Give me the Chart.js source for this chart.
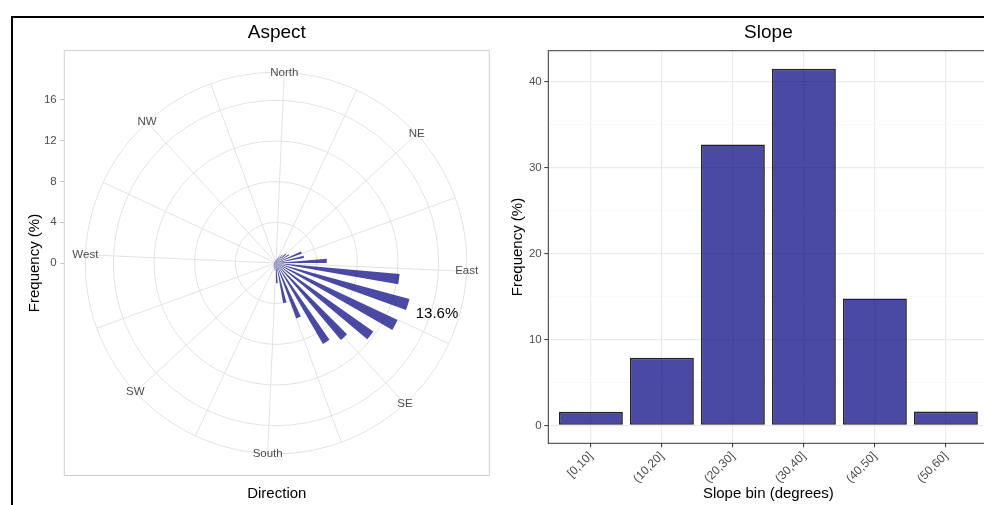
<!DOCTYPE html>
<html>
<head>
<meta charset="utf-8">
<script src="https://cdn.jsdelivr.net/npm/chart.js@4.4.1/dist/chart.umd.min.js"></script>
<style>
  html, body { margin: 0; padding: 0; background: #fff; overflow: hidden; width: 984px; height: 505px; }
  #frame { position: absolute; left: 11px; top: 16px; width: 1000px; height: 600px; border-top: 2px solid #000; border-left: 2px solid #000; }
  #leftWrap { position: absolute; left: 14px; top: 18px; width: 486px; height: 487px; }
  #rightWrap { position: absolute; left: 500px; top: 18px; width: 500px; height: 487px; }
</style>
</head>
<body>
<div id="frame"></div>
<div id="leftWrap"><canvas id="aspect"></canvas></div>
<div id="rightWrap"><canvas id="slope"></canvas></div>
<script>
// ---------- data ----------
// Aspect: 36 bins of 10 degrees (clockwise from North), frequency in %
const ASPECT_BINS = Array.from({length: 36}, (_, i) => `[${i * 10},${i * 10 + 10})`);
const ASPECT_FREQ = [
  0.4, 0.5, 0.7, 1.0, 1.3, 1.5, 2.7, 2.8, 5.0, 12.2,
  13.6, 13.2, 11.7, 9.9, 9.2, 5.8, 4.0, 2.0, 0.8, 0.6,
  0.5, 0.4, 0.3, 0.2, 0.2, 0.2, 0.2, 0.2, 0.2, 0.2,
  0.2, 0.2, 0.2, 0.2, 0.3, 0.3
];
const ASPECT_R_TICKS = [0, 4, 8, 12, 16];
const COMPASS_LABELS = ['North', '', 'NE', '', 'East', '', 'SE', '', 'South', '', 'SW', '', 'West', '', 'NW', ''];

// Slope
const SLOPE_BINS = ['[0,10]', '(10,20]', '(20,30]', '(30,40]', '(40,50]', '(50,60]'];
const SLOPE_FREQ = [1.59, 7.89, 32.7, 41.5, 14.77, 1.62];
const SLOPE_Y_TICKS = [0, 10, 20, 30, 40];

// ---------- styling constants ----------
const R_MAX = 20.85;      // radial extent of the panel
const R_OUTER = 18.77;    // outer ring of the polar panel
const START_ANGLE = 2.5;  // rotation of the polar panel (deg)
const BAR_FRAC = 0.48;    // fraction of each 10 deg sector filled by a bar
const LABEL_GAP = 3;      // distance of max label beyond bar (in %)
const BAR_FILL = 'rgba(0,0,128,0.71)';
const GRAY_TXT = '#4d4d4d';

Chart.defaults.font.family = "'Liberation Sans', Arial, Helvetica, sans-serif";
Chart.defaults.color = GRAY_TXT;

function panelBorder(color, width) {
  return {
    id: 'panelBorder',
    afterDraw(chart) {
      const {ctx, chartArea: a} = chart;
      ctx.save();
      ctx.strokeStyle = color;
      ctx.lineWidth = width;
      ctx.strokeRect(a.left, a.top, a.right - a.left, a.bottom - a.top);
      ctx.restore();
    }
  };
}

const rosePlugin = {
  id: 'rose',
  beforeDatasetsDraw(chart) {
    const s = chart.scales.r;
    const ctx = chart.ctx;
    // narrow each sector to a bar centred in its bin
    const meta = chart.getDatasetMeta(0);
    const n = meta.data.length;
    const step = 2 * Math.PI / n;
    const a0 = s.getIndexAngle(0) - Math.PI / 2;
    meta.data.forEach((arc, i) => {
      const mid = a0 + (i + 0.5) * step;
      arc.startAngle = mid - step * BAR_FRAC / 2;
      arc.endAngle = mid + step * BAR_FRAC / 2;
    });
    // spokes
    const R = s.getDistanceFromCenterForValue(R_OUTER);
    ctx.save();
    ctx.strokeStyle = '#e2e2e2';
    ctx.lineWidth = 1;
    const rot = s.options.startAngle;
    COMPASS_LABELS.forEach((_, k) => {
      const a = (rot + k * 360 / COMPASS_LABELS.length) * Math.PI / 180 - Math.PI / 2;
      ctx.beginPath();
      ctx.moveTo(s.xCenter, s.yCenter);
      ctx.lineTo(s.xCenter + Math.cos(a) * R, s.yCenter + Math.sin(a) * R);
      ctx.stroke();
    });
    ctx.restore();
  },
  afterDatasetsDraw(chart) {
    const s = chart.scales.r;
    const ctx = chart.ctx;
    const R = s.getDistanceFromCenterForValue(R_OUTER);
    const rot = s.options.startAngle;
    ctx.save();
    ctx.font = "11.5px 'Liberation Sans', Arial, sans-serif";
    ctx.fillStyle = GRAY_TXT;
    ctx.textAlign = 'center';
    ctx.textBaseline = 'middle';
    COMPASS_LABELS.forEach((lab, k) => {
      if (!lab) return;
      const a = (rot + k * 360 / COMPASS_LABELS.length) * Math.PI / 180 - Math.PI / 2;
      ctx.fillText(lab, s.xCenter + Math.cos(a) * R, s.yCenter + Math.sin(a) * R);
    });
    // label the largest bar
    const maxV = Math.max(...ASPECT_FREQ);
    const idx = ASPECT_FREQ.indexOf(maxV);
    const arc = chart.getDatasetMeta(0).data[idx];
    const mid = (arc.startAngle + arc.endAngle) / 2;
    const r = s.getDistanceFromCenterForValue(maxV + LABEL_GAP);
    ctx.font = "15px 'Liberation Sans', Arial, sans-serif";
    ctx.fillStyle = '#000';
    ctx.fillText(maxV.toFixed(1) + '%', s.xCenter + Math.cos(mid) * r, s.yCenter + Math.sin(mid) * r);
    ctx.restore();
  }
};

new Chart(document.getElementById('aspect'), {
  type: 'polarArea',
  data: {
    labels: ASPECT_BINS,
    datasets: [{ data: ASPECT_FREQ, backgroundColor: BAR_FILL, borderWidth: 0 }]
  },
  options: {
    responsive: true,
    maintainAspectRatio: false,
    animation: false,
    events: [],
    layout: { padding: { left: 0, right: 10.7, top: 0, bottom: 0 } },
    plugins: {
      legend: { display: false },
      tooltip: { enabled: false },
      title: { display: true, text: 'Aspect', fullSize: false, color: '#000', font: { size: 19, weight: 'normal' }, padding: { top: 3.6, bottom: 6.1 } },
      subtitle: { display: true, text: 'Direction', position: 'bottom', fullSize: false, color: '#000', font: { size: 15 }, padding: { top: 9, bottom: 2.5 } }
    },
    scales: {
      r: {
        type: 'radialLinear',
        min: 0,
        max: R_MAX,
        startAngle: START_ANGLE,
        afterBuildTicks: s => { s.ticks = ASPECT_R_TICKS.concat([R_OUTER]).map(v => ({ value: v })); },
        ticks: { display: false },
        pointLabels: { display: false },
        angleLines: { display: false },
        grid: { circular: true, color: '#e2e2e2', lineWidth: 1 }
      },
      y: {
        type: 'linear',
        position: 'left',
        min: -R_MAX,
        max: R_MAX,
        afterBuildTicks: s => { s.ticks = ASPECT_R_TICKS.map(v => ({ value: v })); },
        afterFit: s => { s.width = 50.3; },
        ticks: { padding: 3.6, color: GRAY_TXT, font: { size: 11.5 } },
        grid: { drawOnChartArea: false, drawTicks: true, tickLength: 4, tickColor: '#c4c4c4', color: '#c4c4c4', tickWidth: 1 },
        border: { display: false },
        title: { display: true, text: 'Frequency (%)', color: '#000', font: { size: 15 }, padding: { top: 12, bottom: 0 } }
      }
    }
  },
  plugins: [rosePlugin, panelBorder('#d0d0d0', 1)]
});

const isMajor = c => c && c.tick && SLOPE_Y_TICKS.includes(c.tick.value);

new Chart(document.getElementById('slope'), {
  type: 'bar',
  data: {
    datasets: [{
      data: SLOPE_BINS.map((b, i) => ({ x: i + 1, y: SLOPE_FREQ[i] })),
      backgroundColor: BAR_FILL,
      borderColor: '#222',
      borderWidth: 1.6,
      borderSkipped: false,
      barPercentage: 0.9,
      categoryPercentage: 1
    }]
  },
  options: {
    responsive: true,
    maintainAspectRatio: false,
    animation: false,
    events: [],
    layout: { padding: { left: 0, right: 11.5, top: 0, bottom: 0 } },
    plugins: {
      legend: { display: false },
      tooltip: { enabled: false },
      title: { display: true, text: 'Slope', fullSize: false, color: '#000', font: { size: 19, weight: 'normal' }, padding: { top: 3.6, bottom: 6.3 } }
    },
    scales: {
      x: {
        type: 'linear',
        min: 0.4,
        max: 6.6,
        offset: false,
        afterBuildTicks: s => { s.ticks = SLOPE_BINS.map((b, i) => ({ value: i + 1 })); },
        afterFit: s => { s.height = 61.7; },
        ticks: {
          autoSkip: false, minRotation: 45, maxRotation: 45, padding: 2,
          color: GRAY_TXT, font: { size: 12 },
          callback: v => SLOPE_BINS[v - 1] ?? ''
        },
        grid: { offset: false, color: '#ebebeb', lineWidth: 1.2, tickColor: '#333', tickLength: 4, tickWidth: 1 },
        border: { display: false },
        title: { display: true, text: 'Slope bin (degrees)', color: '#000', font: { size: 15 }, padding: { top: 0, bottom: 1.7 } }
      },
      y: {
        min: -2.075,
        max: 43.6,
        afterBuildTicks: s => {
          const t = [];
          SLOPE_Y_TICKS.forEach((v, i) => {
            t.push({ value: v });
            if (i < SLOPE_Y_TICKS.length - 1) t.push({ value: (v + SLOPE_Y_TICKS[i + 1]) / 2 });
          });
          s.ticks = t;
        },
        afterFit: s => { s.width = 48.3; },
        ticks: { padding: 2.6, color: GRAY_TXT, font: { size: 11.5 }, callback: v => SLOPE_Y_TICKS.includes(v) ? v : '' },
        grid: {
          color: c => isMajor(c) ? '#ebebeb' : '#f5f5f5',
          lineWidth: c => isMajor(c) ? 1.2 : 0.7,
          tickColor: c => isMajor(c) ? '#333' : 'rgba(0,0,0,0)',
          tickLength: 4,
          tickWidth: 1
        },
        border: { display: false },
        title: { display: true, text: 'Frequency (%)', color: '#000', font: { size: 15 }, padding: { top: 9.3, bottom: 0 } }
      }
    }
  },
  plugins: [panelBorder('#333', 1)]
});
</script>
</body>
</html>
